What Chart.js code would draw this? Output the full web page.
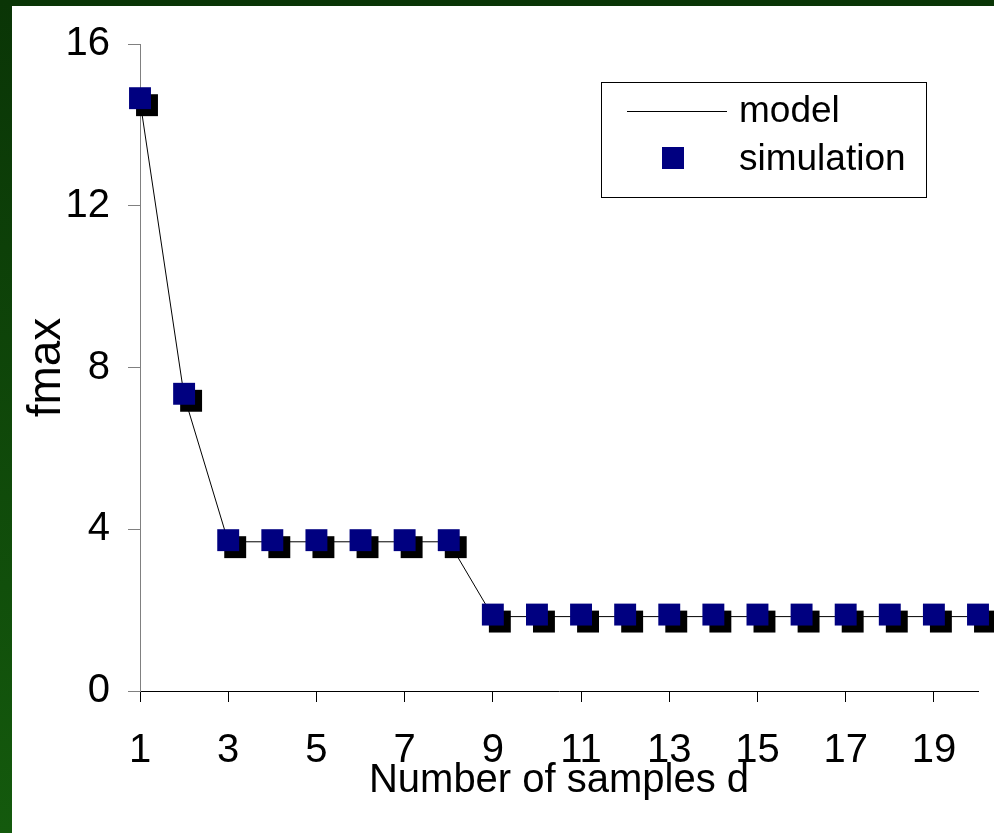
<!DOCTYPE html>
<html>
<head>
<meta charset="utf-8">
<script src="https://cdn.jsdelivr.net/npm/chart.js@4"></script>
<style>
html, body { margin: 0; padding: 0; }
body { width: 994px; height: 833px; background: linear-gradient(to bottom, #0a3506, #145a0d); position: relative; overflow: hidden; }
#wrap { position: absolute; left: 12px; top: 6px; width: 982px; height: 827px; background: #fff; }
</style>
</head>
<body>
<div id="wrap"><canvas id="chart1" width="982" height="827"></canvas></div>
<script>
const samples = [1, 2, 3, 4, 5, 6, 7, 8, 9, 10, 11, 12, 13, 14, 15, 16, 17, 18, 19, 20];
const modelValues = [14.6, 7.3, 3.69, 3.69, 3.69, 3.69, 3.69, 3.69, 1.84, 1.84,
  1.84, 1.84, 1.84, 1.84, 1.84, 1.84, 1.84, 1.84, 1.84, 1.84];
const simValues = [14.66, 7.35, 3.73, 3.73, 3.73, 3.73, 3.73, 3.73, 1.89, 1.89,
  1.89, 1.89, 1.89, 1.89, 1.89, 1.89, 1.89, 1.89, 1.89, 1.89];
const xTicks = [1, 3, 5, 7, 9, 11, 13, 15, 17, 19];
const yTicks = [0, 4, 8, 12, 16];

const FONT = "'Liberation Sans', Arial, sans-serif";

// black drop shadow under the simulation squares
const markerShadow = {
  id: "markerShadow",
  beforeDatasetDraw(chart, args) {
    if (args.index !== 0) return;
    const ctx = chart.ctx;
    ctx.save();
    ctx.shadowColor = "#000";
    ctx.shadowOffsetX = 7;
    ctx.shadowOffsetY = 7;
    ctx.shadowBlur = 0;
  },
  afterDatasetDraw(chart, args) {
    if (args.index !== 0) return;
    chart.ctx.restore();
  },
};

// boxed legend inside the plot, top right
const boxLegend = {
  id: "boxLegend",
  afterDraw(chart) {
    const { ctx, chartArea } = chart;
    const w = 325, h = 115;
    const left = Math.round(chartArea.right - 52 - w);
    const top = Math.round(chartArea.top + 38);
    const sim = chart.data.datasets[0];
    const model = chart.data.datasets[1];
    ctx.save();
    ctx.fillStyle = "#fff";
    ctx.fillRect(left, top, w, h);
    ctx.strokeStyle = "#000";
    ctx.lineWidth = 1;
    ctx.strokeRect(left + 0.5, top + 0.5, w, h);
    ctx.strokeStyle = model.borderColor;
    ctx.beginPath();
    ctx.moveTo(left + 26, top + 29.5);
    ctx.lineTo(left + 126, top + 29.5);
    ctx.stroke();
    ctx.fillStyle = sim.backgroundColor;
    ctx.fillRect(left + 61, top + 65, 22, 22);
    ctx.fillStyle = "#000";
    ctx.font = "37px " + FONT;
    ctx.textBaseline = "alphabetic";
    ctx.fillText(model.label, left + 138, top + 40);
    ctx.fillText(sim.label, left + 138, top + 88);
    ctx.restore();
  },
};

const ctx1 = document.getElementById("chart1").getContext("2d");

const fmaxChart = new Chart(ctx1, {
  type: "line",
  data: {
    datasets: [
      {
        label: "simulation",
        data: samples.map((d, i) => ({ x: d, y: simValues[i] })),
        showLine: false,
        pointStyle: "rect",
        pointRadius: 15.5,
        pointHoverRadius: 15.5,
        backgroundColor: "#000080",
        borderColor: "#000080",
        pointBorderWidth: 0,
        clip: false,
      },
      {
        label: "model",
        data: samples.map((d, i) => ({ x: d, y: modelValues[i] })),
        borderColor: "#000",
        borderWidth: 1,
        pointRadius: 0,
        tension: 0,
        fill: false,
        clip: false,
      },
    ],
  },
  options: {
    responsive: false,
    animation: false,
    devicePixelRatio: 1,
    layout: { padding: { left: 0, right: 16, top: 38, bottom: 0 } },
    plugins: {
      legend: { display: false },
      tooltip: { enabled: false },
    },
    scales: {
      x: {
        type: "linear",
        min: 1,
        max: 20,
        afterBuildTicks: (scale) => {
          scale.ticks = xTicks.map((v) => ({ value: v }));
        },
        afterFit: (scale) => {
          scale.height = 142;
        },
        grid: { drawOnChartArea: false, drawTicks: true, tickLength: 11, color: "#000" },
        border: { display: true, color: "#000", width: 1 },
        ticks: {
          autoSkip: false,
          maxRotation: 0,
          padding: 25,
          color: "#000",
          font: { family: FONT, size: 40 },
        },
        title: {
          display: true,
          text: "Number of samples d",
          color: "#000",
          font: { family: FONT, size: 40 },
          padding: { top: 0, bottom: 28 },
        },
      },
      y: {
        min: 0,
        max: 16,
        afterBuildTicks: (scale) => {
          scale.ticks = yTicks.map((v) => ({ value: v }));
        },
        afterFit: (scale) => {
          scale.width = 128;
          scale.paddingTop = 0;
          scale.paddingBottom = 0;
        },
        grid: { drawOnChartArea: false, drawTicks: true, tickLength: 12, color: "#808080" },
        border: { display: true, color: "#808080", width: 1 },
        ticks: {
          padding: 18,
          color: "#000",
          font: { family: FONT, size: 40 },
        },
        title: {
          display: true,
          text: "fmax",
          color: "#000",
          font: { family: FONT, size: 46 },
          padding: { top: 8, bottom: 0 },
        },
      },
    },
  },
  plugins: [markerShadow, boxLegend],
});
</script>
</body>
</html>
